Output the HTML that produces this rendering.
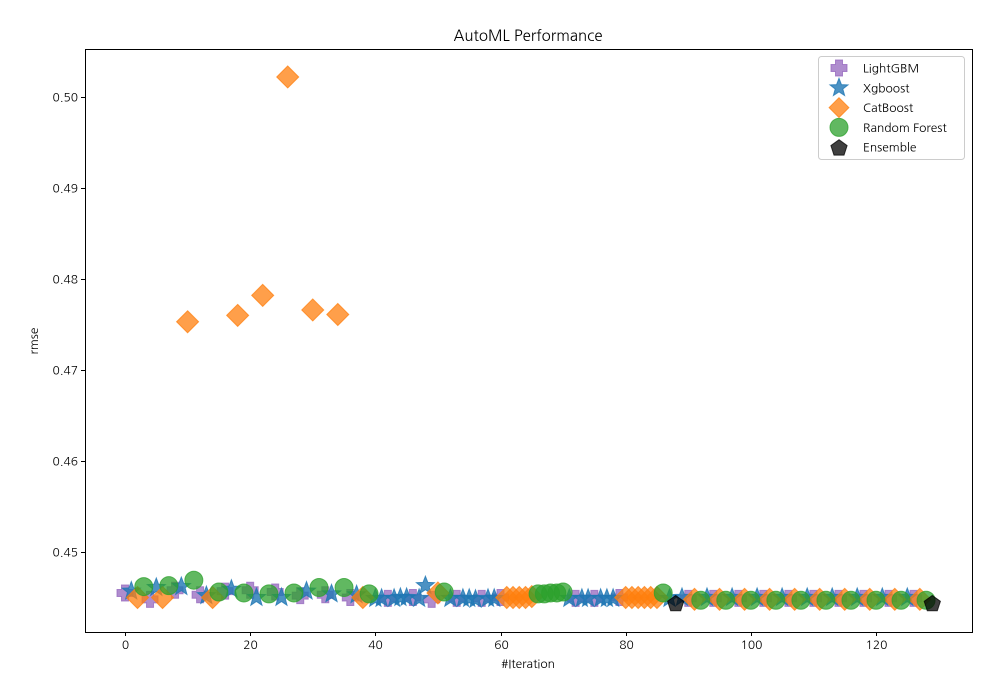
<!DOCTYPE html>
<html><head><meta charset="utf-8"><style>
body{margin:0;background:#fff}
svg{display:block;font-family:"NanumGothic","Liberation Sans",sans-serif}
</style></head><body>
<svg id="chart" width="1000" height="700"></svg>
<script>
const models=["LightGBM","Xgboost","CatBoost","Random Forest","Ensemble"];
const iterL=[0,4,8,12,16,20,24,28,32,36,42,46,49,53,57,60,72,75,79];
const valL=[0.4455,0.4448,0.4458,0.4453,0.4457,0.4458,0.4456,0.4452,0.4453,0.4450,0.4449,0.4450,0.4448,0.4449,0.4449,0.4450,0.4449,0.4449,0.4450];
const iterX=[1,5,9,13,17,21,25,29,33,37,40,41,43,44,45,47,48,52,54,55,56,58,59,71,73,74,76,77,78,87];
const valX=[0.4457,0.4461,0.4462,0.4452,0.4459,0.4450,0.4450,0.4457,0.4454,0.4453,0.4449,0.4449,0.4449,0.4450,0.4450,0.4449,0.4463,0.4449,0.4449,0.4449,0.4448,0.4449,0.4449,0.4449,0.4449,0.4449,0.4449,0.4449,0.4449,0.4449];
const iterC=[2,6,10,14,18,22,26,30,34,38,50,61,62,63,64,65,80,81,82,83,84,85];
const valC=[0.4450,0.4450,0.4753,0.4450,0.4760,0.4782,0.5022,0.4766,0.4761,0.4450,0.4455,0.4450,0.4450,0.4450,0.4450,0.4451,0.4450,0.4450,0.4450,0.4450,0.4450,0.4450];
const iterR=[3,7,11,15,19,23,27,31,35,39,51,66,67,68,69,70,86];
const valR=[0.4462,0.4463,0.4469,0.4456,0.4455,0.4454,0.4455,0.4461,0.4461,0.4454,0.4456,0.4454,0.4454,0.4455,0.4455,0.4456,0.4455];
const iterE=[88,129];
const valE=[0.4444,0.4444];
// repeating tail 89..128
for(let k=0;k<10;k++){
  iterX.push(89+4*k);valX.push(0.4450);
  iterL.push(90+4*k);valL.push(0.4449);
  iterC.push(91+4*k);valC.push(0.4448);
  iterR.push(92+4*k);valR.push(0.4447);
}
const xTicks=[0,20,40,60,80,100,120];
const yTicks=[0.45,0.46,0.47,0.48,0.49,0.50];

const NS="http://www.w3.org/2000/svg";
const svg=document.getElementById("chart");
const L=85,R=972,T=49,B=632;
const sx=v=>125+(v-0)*(876-125)/120;
const sy=v=>552-(v-0.45)*9100;
function mk(tag,attrs,parent){const e=document.createElementNS(NS,tag);for(const k in attrs)e.setAttribute(k,attrs[k]);(parent||svg).appendChild(e);return e;}

const title=mk("text",{x:528,y:41,"text-anchor":"middle","font-size":15,fill:"#000"});title.textContent="AutoML Performance";



const xa=mk("g",{});


xTicks.forEach(t=>{const x=Math.round(sx(t))+0.5;mk("line",{x1:x,x2:x,y1:B,y2:B+4,stroke:"#000"},xa);
 const tx=mk("text",{x:x,y:B+17,"text-anchor":"middle","font-size":12},xa);tx.textContent=t;
 
 });
const xt=mk("text",{x:528,y:668,"text-anchor":"middle","font-size":12});xt.textContent="#Iteration";



const ya=mk("g",{});


yTicks.forEach(t=>{const y=Math.round(sy(t))+0.5;mk("line",{x1:L-4,x2:L,y1:y,y2:y,stroke:"#000"},ya);
 const tx=mk("text",{x:L-7,y:y+4,"text-anchor":"end","font-size":12},ya);tx.textContent=t.toFixed(2);
 
 });
const yt=mk("text",{x:38,y:341,"text-anchor":"middle","font-size":12,transform:"rotate(-90 38 341)"});yt.textContent="rmse";



function shape(type,x,y,g,s){
 s=s||1;
 if(type==="L"){const a=3.5*s,b=8*s;return mk("path",{d:`M${x-a},${y-b}H${x+a}V${y-a}H${x+b}V${y+a}H${x+a}V${y+b}H${x-a}V${y+a}H${x-b}V${y-a}H${x-a}Z`,fill:"#9467bd","fill-opacity":0.75,stroke:"#9467bd","stroke-opacity":0.75},g);}
 if(type==="X"){let p=[];for(let i=0;i<10;i++){const r=(i%2?4:9.5)*s,a=-Math.PI/2+i*Math.PI/5;p.push((x+r*Math.cos(a)).toFixed(1)+","+(y+r*Math.sin(a)).toFixed(1));}
  return mk("polygon",{points:p.join(" "),fill:"#1f77b4","fill-opacity":0.8,stroke:"#1f77b4","stroke-opacity":0.8},g);}
 if(type==="C"){const r=11*s;return mk("polygon",{points:`${x},${y-r} ${x+r},${y} ${x},${y+r} ${x-r},${y}`,fill:"#ff7f0e","fill-opacity":0.75,stroke:"#ff7f0e","stroke-opacity":0.75},g);}
 if(type==="R"){return mk("circle",{cx:x,cy:y,r:9*s,fill:"#2ca02c","fill-opacity":0.75,stroke:"#2ca02c","stroke-opacity":0.75},g);}
 if(type==="E"){let p=[];for(let i=0;i<5;i++){const a=-Math.PI/2+i*2*Math.PI/5,r=8.5*s;p.push((x+r*Math.cos(a)).toFixed(1)+","+(y+r*Math.sin(a)+1).toFixed(1));}
  return mk("polygon",{points:p.join(" "),fill:"#000","fill-opacity":0.75,stroke:"#000","stroke-opacity":0.75},g);}
}
const series=[["L",iterL,valL,"lightgbm"],["X",iterX,valX,"xgboost"],["C",iterC,valC,"catboost"],["R",iterR,valR,"random-forest"],["E",iterE,valE,"ensemble"]];
series.forEach(([t,xs,vs,n])=>{const g=mk("g",{});
 
 
 xs.forEach((it,i)=>{const m=shape(t,sx(it),sy(vs[i]),g);
  
  });});

const frame=mk("rect",{x:L+0.5,y:T+0.5,width:R-L,height:B-T,fill:"none",stroke:"#000","stroke-width":1});



const lg=mk("g",{});


mk("rect",{x:818.5,y:56.5,width:146,height:103,rx:3,fill:"#fff","fill-opacity":0.8,stroke:"#ccc"},lg);
["L","X","C","R","E"].forEach((t,i)=>{const y=68+i*19.8;
 const e=mk("g",{},lg);
 
 
 shape(t,839,y,e,t==="C"?0.9:1);
 const tx=mk("text",{x:863,y:y+4.5,"font-size":12},e);tx.textContent=models[i];});
</script>
</body></html>
